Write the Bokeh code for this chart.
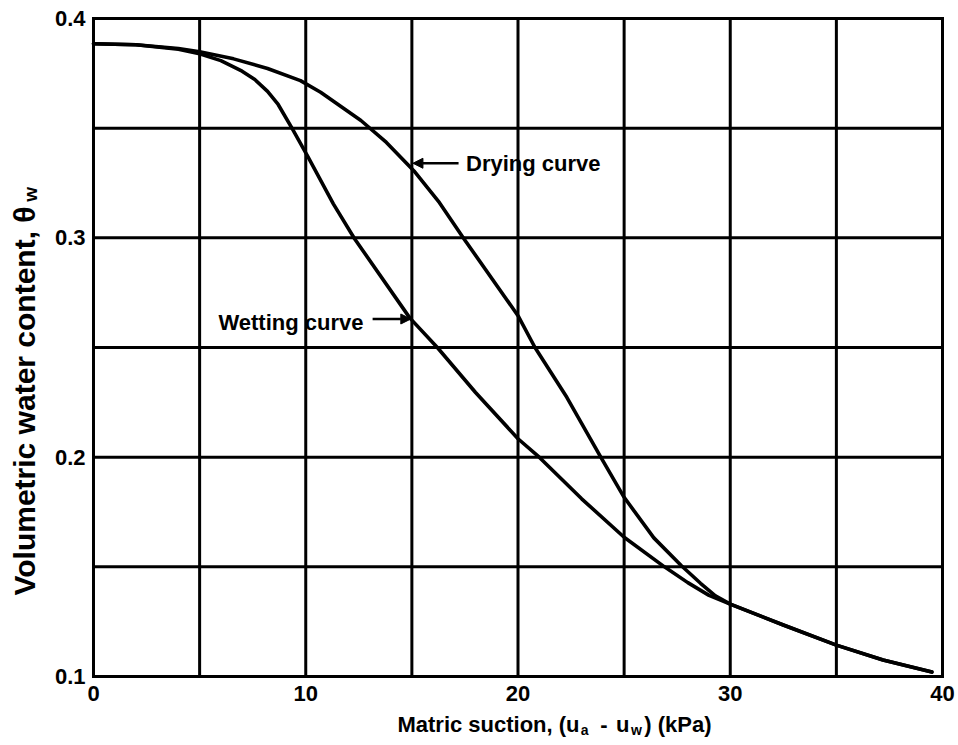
from math import pi

from bokeh.core.properties import value
from bokeh.embed import file_html
from bokeh.models import Arrow, Label, NormalHead, Range1d
from bokeh.plotting import figure
from bokeh.resources import INLINE

# Soil-water characteristic curves: drying and wetting branches (hysteresis)
drying_x = [0, 2, 4, 5, 6.6, 8.2, 9.75, 10.7, 12.6, 13.8, 15.1, 16.3, 17.45,
            20.0, 20.8, 22.3, 23.9, 25.0, 26.4, 27.7, 28.6, 29.3]
drying_y = [0.3885, 0.3880, 0.3863, 0.3848, 0.3816, 0.3772, 0.3717, 0.3664,
            0.3535, 0.3435, 0.3305, 0.3160, 0.2996, 0.2645, 0.2500, 0.2273,
            0.2000, 0.1817, 0.1632, 0.1505, 0.1425, 0.1368]

wetting_x = [0, 2, 4, 5, 6.0, 7.0, 7.6, 8.2, 8.7, 9.35, 10.1, 11.3, 12.3, 14.9,
             16.2, 18.0, 20.0, 21.0, 23.0, 25.0, 26.9, 28.0, 29.0]
wetting_y = [0.3885, 0.3880, 0.3860, 0.3839, 0.3808, 0.3760, 0.3722, 0.3668,
             0.3608, 0.3500, 0.3370, 0.3155, 0.2996, 0.2635, 0.2500, 0.2295,
             0.2084, 0.2000, 0.1810, 0.1635, 0.1500, 0.1428, 0.1370]

# Both branches share the same path at high suction
tail_x = [30.0, 32.5, 35.0, 37.2, 39.5]
tail_y = [0.1330, 0.1235, 0.1143, 0.1075, 0.1020]

x_ticks = [0, 10, 20, 30, 40]
x_tick_labels = ["0", "10", "20", "30", "40"]
y_ticks = [0.1, 0.2, 0.3, 0.4]
y_tick_labels = ["0.1", "0.2", "0.3", "0.4"]
x_grid = [0, 5, 10, 15, 20, 25, 30, 35, 40]
y_grid = [0.1, 0.15, 0.2, 0.25, 0.3, 0.35, 0.4]

X_MIN, X_MAX = 0, 40
Y_MIN, Y_MAX = 0.1, 0.4

FONT = "Liberation Sans"

# The frame spans the whole canvas; the ranges leave room around the chart box
# for the tick labels and the axis titles.
p = figure(width=958, height=745,
           x_range=Range1d(-4.3816, 40.7538), y_range=Range1d(0.068541, 0.408207),
           output_backend="svg", toolbar_location=None,
           x_axis_location=None, y_axis_location=None, min_border=0)
p.background_fill_color = "white"
p.border_fill_color = "white"
p.outline_line_color = None
p.grid.visible = False

# heavy grid, including the chart box
p.segment(x0=x_grid, y0=[Y_MIN] * len(x_grid), x1=x_grid, y1=[Y_MAX] * len(x_grid),
          line_color="black", line_width=3, line_cap="square")
p.segment(x0=[X_MIN] * len(y_grid), y0=y_grid, x1=[X_MAX] * len(y_grid), y1=y_grid,
          line_color="black", line_width=3, line_cap="square")

# tick labels
tick_style = dict(text_font=value(FONT), text_font_style="bold",
                  text_font_size=value("22px"), text_color="black")
p.text(x=x_ticks, y=[0.09225] * len(x_ticks), text=x_tick_labels,
       text_align="center", text_baseline="middle", **tick_style)
p.text(x=[-0.377] * len(y_ticks), y=y_ticks, text=y_tick_labels,
       text_align="right", text_baseline="middle", **tick_style)

# curves
p.line(drying_x + tail_x, drying_y + tail_y, line_color="black",
       line_width=3.6, line_join="round", line_cap="round")
p.line(wetting_x + tail_x, wetting_y + tail_y, line_color="black",
       line_width=3.6, line_join="round", line_cap="round")

# curve annotations with arrows
p.add_layout(Arrow(end=NormalHead(size=10, fill_color="black", line_color="black"),
                   x_start=17.2, y_start=0.334, x_end=15.05, y_end=0.334,
                   line_color="black", line_width=2.5))
p.add_layout(Arrow(end=NormalHead(size=10, fill_color="black", line_color="black"),
                   x_start=13.15, y_start=0.263, x_end=14.95, y_end=0.263,
                   line_color="black", line_width=2.5))

label_style = dict(text_font=FONT, text_font_style="bold",
                   text_font_size="22px", text_color="black")
p.add_layout(Label(x=17.55, y=0.3339, text="Drying curve",
                   text_baseline="middle", **label_style))
p.add_layout(Label(x=12.72, y=0.2615, text="Wetting curve", text_align="right",
                   text_baseline="middle", **label_style))

# y axis title, with subscript w
title_style = dict(text_font=FONT, text_font_style="bold", text_color="black")
p.add_layout(Label(x=-3.25, y=0.3143, text="Volumetric water content, \u03b8",
                   angle=pi / 2, text_align="right", text_baseline="middle",
                   text_font_size="30px", **title_style))
p.add_layout(Label(x=-2.95, y=0.3165, text="w", angle=pi / 2,
                   text_align="left", text_baseline="middle",
                   text_font_size="19px", **title_style))

# x axis title, with subscripts a and w
xt_mid = 0.0781
xt_sub = 0.0758
p.add_layout(Label(x=22.90, y=xt_mid, text="Matric suction, (u", text_align="right",
                   text_baseline="middle", text_font_size="22px", **title_style))
p.add_layout(Label(x=22.96, y=xt_sub, text="a", text_align="left",
                   text_baseline="middle", text_font_size="14px", **title_style))
p.add_layout(Label(x=24.05, y=xt_mid, text="-", text_align="center",
                   text_baseline="middle", text_font_size="22px", **title_style))
p.add_layout(Label(x=24.62, y=xt_mid, text="u", text_align="left",
                   text_baseline="middle", text_font_size="22px", **title_style))
p.add_layout(Label(x=25.32, y=xt_sub, text="w", text_align="left",
                   text_baseline="middle", text_font_size="14px", **title_style))
p.add_layout(Label(x=25.95, y=xt_mid, text=") (kPa)", text_align="left",
                   text_baseline="middle", text_font_size="22px", **title_style))

open("out.html", "w").write(file_html(p, INLINE))
